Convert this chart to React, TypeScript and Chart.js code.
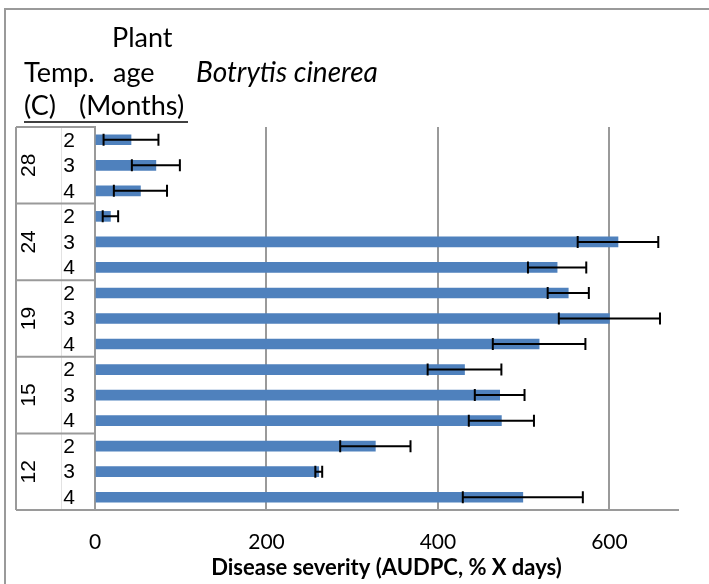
import { useEffect, useRef } from 'react';
import { Chart, registerables } from 'chart.js';

Chart.register(...registerables);

// Temperature groups (°C), listed top to bottom, and plant ages (months) inside each group
const temperatures = ['28', '24', '19', '15', '12'];
const plantAges = ['2', '3', '4'];

// AUDPC (% x days) per temperature/age, same order as the rows
const severity = [42, 71, 53, 18, 610, 539, 552, 600, 518, 431, 472, 474, 327, 261, 499];
// Error (±) for each row
const severityError = [32, 28, 31, 9, 47, 34, 24, 59, 54, 43, 29, 38, 41, 4, 70];

// Value axis
const xTickValues = [0, 200, 400, 600];
const xMax = 680;

const rowLabels = temperatures.flatMap((t) => plantAges.map((a) => `${t} °C / ${a} mo`));

const GRID = '#9a9a9a';
const BAR = '#4f81bd';
const SANS = 'Lato, "Open Sans", sans-serif';

const decorPlugin = {
  id: 'decor',
  beforeDraw(chart: any) {
    const ctx = chart.ctx as CanvasRenderingContext2D;
    ctx.save();
    ctx.fillStyle = '#ffffff';
    ctx.fillRect(0, 0, chart.width, chart.height);
    // outer frame (only top and left sides fall inside the canvas)
    ctx.strokeStyle = GRID;
    ctx.lineWidth = 2;
    ctx.beginPath();
    ctx.moveTo(5, chart.height);
    ctx.lineTo(5, 9);
    ctx.lineTo(chart.width, 9);
    ctx.stroke();
    ctx.restore();
  },
  afterDatasetsDraw(chart: any) {
    const ctx = chart.ctx as CanvasRenderingContext2D;
    const xs = chart.scales.x;
    const ys = chart.scales.y;
    ctx.save();
    ctx.strokeStyle = '#000000';
    ctx.lineWidth = 2;
    severity.forEach((v, i) => {
      const e = severityError[i];
      const y = ys.getPixelForValue(i);
      const x1 = xs.getPixelForValue(v - e);
      const x2 = xs.getPixelForValue(v + e);
      ctx.beginPath();
      ctx.moveTo(x1, y);
      ctx.lineTo(x2, y);
      ctx.moveTo(x1, y - 6);
      ctx.lineTo(x1, y + 6);
      ctx.moveTo(x2, y - 6);
      ctx.lineTo(x2, y + 6);
      ctx.stroke();
    });
    ctx.restore();
  },
  afterDraw(chart: any) {
    const ctx = chart.ctx as CanvasRenderingContext2D;
    const ys = chart.scales.y;
    const area = chart.chartArea;
    const outerLeft = 16;
    const innerLeft = 61;
    ctx.save();

    // category table lines
    ctx.strokeStyle = '#e2e2e2';
    ctx.lineWidth = 1;
    ctx.beginPath();
    ctx.moveTo(innerLeft + 0.5, area.top);
    ctx.lineTo(innerLeft + 0.5, area.bottom);
    ctx.stroke();

    ctx.strokeStyle = GRID;
    ctx.lineWidth = 2;
    ctx.beginPath();
    ctx.moveTo(outerLeft, area.top);
    ctx.lineTo(area.left, area.top);
    ctx.moveTo(outerLeft, area.top);
    ctx.lineTo(outerLeft, area.bottom);
    ctx.moveTo(outerLeft, area.bottom);
    ctx.lineTo(area.left, area.bottom);
    for (let g = 1; g < temperatures.length; g++) {
      const yb = (ys.getPixelForValue(g * 3 - 1) + ys.getPixelForValue(g * 3)) / 2;
      ctx.moveTo(outerLeft, yb);
      ctx.lineTo(area.left, yb);
    }
    ctx.stroke();

    // inner (age) and outer (temperature) labels
    ctx.fillStyle = '#000000';
    ctx.font = '21px "Liberation Sans", Arial, sans-serif';
    ctx.textAlign = 'center';
    ctx.textBaseline = 'middle';
    temperatures.forEach((t, g) => {
      plantAges.forEach((a, k) => {
        const y = ys.getPixelForValue(g * 3 + k);
        ctx.fillText(a, 69, y + 1);
      });
      const yc = (ys.getPixelForValue(g * 3) + ys.getPixelForValue(g * 3 + 2)) / 2;
      ctx.save();
      ctx.translate(29, yc);
      ctx.rotate(-Math.PI / 2);
      ctx.fillText(t, 0, 0);
      ctx.restore();
    });

    // header
    ctx.textAlign = 'left';
    ctx.textBaseline = 'alphabetic';
    ctx.font = `27px ${SANS}`;
    ctx.fillText('Plant', 112, 47);
    ctx.fillText('Temp.', 24, 82);
    ctx.fillText('age', 113, 82);
    ctx.fillText('(C)', 24, 115);
    ctx.fillText('(Months)', 79, 115);
    ctx.font = `italic 28px ${SANS}`;
    ctx.fillText('Botrytis cinerea', 196, 82);
    ctx.strokeStyle = '#000000';
    ctx.lineWidth = 1.5;
    ctx.beginPath();
    ctx.moveTo(24, 122);
    ctx.lineTo(188, 122);
    ctx.stroke();

    ctx.restore();
  },
};

export default function App() {
  const canvasRef = useRef<HTMLCanvasElement | null>(null);

  useEffect(() => {
    const canvas = canvasRef.current;
    if (!canvas) return;
    const chart = new Chart(canvas, {
      type: 'bar',
      data: {
        labels: rowLabels,
        datasets: [
          {
            label: 'Botrytis cinerea',
            data: severity,
            backgroundColor: BAR,
            borderWidth: 0,
            barThickness: 10,
          },
        ],
      },
      options: {
        indexAxis: 'y',
        responsive: false,
        animation: false,
        layout: { padding: { left: 95, right: 31, top: 127, bottom: 3 } },
        plugins: {
          legend: { display: false },
          tooltip: { enabled: false },
        },
        scales: {
          x: {
            type: 'linear',
            min: 0,
            max: xMax,
            afterBuildTicks(scale: any) {
              scale.ticks = xTickValues.map((value) => ({ value }));
            },
            grid: {
              color: GRID,
              lineWidth: 2,
              drawTicks: false,
            },
            border: { display: true, color: GRID, width: 2 },
            ticks: {
              color: '#000000',
              padding: 19.4,
              font: { family: SANS, size: 21 },
            },
            title: {
              display: true,
              text: 'Disease severity (AUDPC, % X days)',
              color: '#000000',
              padding: { top: -19.4, bottom: 0 },
              font: { family: SANS, size: 22, weight: 'bold' },
            },
          },
          y: {
            type: 'category',
            grid: { display: false, drawTicks: false },
            border: { display: true, color: GRID, width: 2 },
            ticks: { display: false },
          },
        },
      },
      plugins: [decorPlugin],
    });
    return () => chart.destroy();
  }, []);

  return (
    <div style={{ position: 'fixed', left: 0, top: 0, width: 709, height: 584, background: '#fff' }}>
      <canvas ref={canvasRef} width={709} height={584} style={{ display: 'block' }} />
    </div>
  );
}
